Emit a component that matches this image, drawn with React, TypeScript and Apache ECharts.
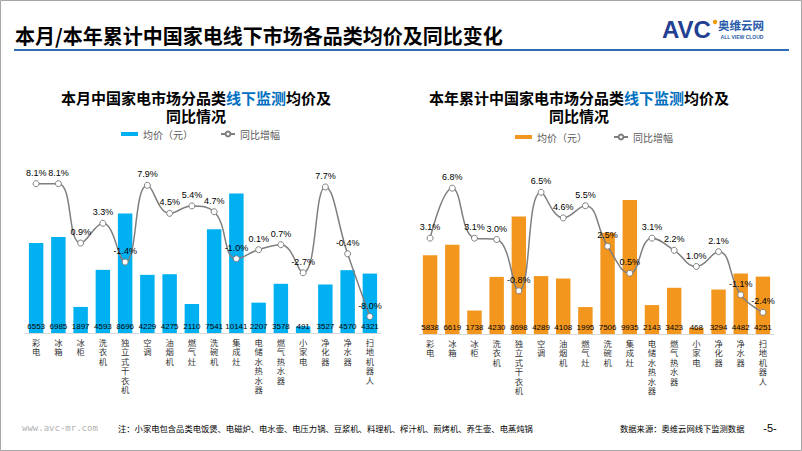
import React, { useEffect, useRef } from 'react';
import * as echarts from 'echarts';

const categories = ['彩电', '冰箱', '冰柜', '洗衣机', '独立式干衣机', '空调', '油烟机', '燃气灶', '洗碗机', '集成灶', '电储水热水器', '燃气热水器', '小家电', '净化器', '净水器', '扫地机器人'];

const monthPrice = [6553, 6985, 1897, 4593, 8696, 4229, 4275, 2110, 7541, 10141, 2207, 3578, 491, 3527, 4570, 4321];
const monthYoY = [8.1, 8.1, 0.9, 3.3, -1.4, 7.9, 4.5, 5.4, 4.7, -1.0, 0.1, 0.7, -2.7, 7.7, -0.4, -8.0];

const yearPrice = [5838, 6619, 1738, 4230, 8698, 4289, 4108, 1995, 7506, 9935, 2143, 3423, 468, 3294, 4482, 4251];
const yearYoY = [3.1, 6.8, 3.1, 3.0, -0.8, 6.5, 4.6, 5.5, 2.5, 0.5, 3.1, 2.2, 1.0, 2.1, -1.1, -2.4];

const CJK = "'Noto Sans CJK SC', 'Noto Sans', sans-serif";
const LAT = "'Liberation Sans', 'Noto Sans CJK SC', sans-serif";

function xAxisFor(gridIndex: number) {
  return {
    gridIndex,
    type: 'category',
    data: categories,
    axisTick: { show: false },
    axisLine: { show: true, lineStyle: { color: '#d9d9d9', width: 1 } },
    axisLabel: {
      interval: 0,
      formatter: (v: string) => v.split('').join('\n'),
      fontSize: 8.3,
      lineHeight: 9.5,
      color: '#333333',
      margin: 5,
      fontFamily: LAT,
    },
  };
}

function barSeries(name: string, data: number[], idx: number, color: string) {
  return {
    name,
    type: 'bar',
    xAxisIndex: idx,
    yAxisIndex: idx * 2,
    data,
    barWidth: '65%',
    itemStyle: { color },
    label: {
      show: true,
      position: 'insideBottom',
      distance: 3,
      color: '#000',
      fontSize: 8,
      fontFamily: "'Liberation Sans', sans-serif",
    },
    z: 2,
  };
}

function lineSeries(name: string, data: number[], idx: number) {
  return {
    name,
    type: 'line',
    xAxisIndex: idx,
    yAxisIndex: idx * 2 + 1,
    data,
    smooth: 0.45,
    symbol: 'circle',
    symbolSize: 6,
    lineStyle: { color: '#7f7f7f', width: 1.5 },
    itemStyle: { color: '#ffffff', borderColor: '#7f7f7f', borderWidth: 1 },
    label: {
      show: true,
      position: 'top',
      distance: 3,
      color: '#000',
      fontSize: 9,
      fontFamily: "'Liberation Sans', sans-serif",
      formatter: (p: any) => Number(p.value).toFixed(1) + '%',
    },
    z: 5,
  };
}

function legendFor(seriesName: string, text: string, left: number, top: number, isBar: boolean) {
  return {
    data: [isBar ? { name: seriesName, icon: 'rect' } : { name: seriesName }],
    left,
    top,
    padding: 0,
    itemWidth: isBar ? 17 : 14,
    itemHeight: isBar ? 4 : 6,
    selectedMode: false,
    formatter: () => text,
    textStyle: { fontSize: 10, color: '#595959', fontFamily: CJK },
  };
}

function centeredText(x: number, y: number, text: string, extra: any = {}) {
  return {
    type: 'text',
    x,
    y,
    style: {
      text,
      fontSize: 15,
      fontWeight: 'bold',
      fontFamily: LAT,
      fill: '#000',
      textAlign: 'center',
      align: 'center',
      textVerticalAlign: 'middle',
      verticalAlign: 'middle',
      ...extra,
    },
  };
}

function leftText(x: number, y: number, text: string, extra: any = {}) {
  return {
    type: 'text',
    x,
    y,
    style: {
      text,
      fontFamily: CJK,
      fill: '#000',
      textVerticalAlign: 'middle',
      verticalAlign: 'middle',
      ...extra,
    },
  };
}

const blueRich = { b: { fill: '#0070c0', color: '#0070c0', fontSize: 15, fontWeight: 'bold', fontFamily: LAT } };

export default function App() {
  const ref = useRef<HTMLDivElement>(null);

  useEffect(() => {
    document.body.style.margin = '0';
    const chart = echarts.init(ref.current!, null, { renderer: 'svg' });
    const option: any = {
      animation: false,
      backgroundColor: '#ffffff',
      textStyle: { fontFamily: CJK },
      grid: [
        { left: 25, width: 356, top: 168, height: 165 },
        { left: 419, width: 355, top: 172, height: 162 },
      ],
      xAxis: [xAxisFor(0), xAxisFor(1)],
      yAxis: [
        { gridIndex: 0, type: 'value', min: 0, max: 12000, show: false, splitLine: { show: false } },
        { gridIndex: 0, type: 'value', min: -10, max: 10, show: false, splitLine: { show: false } },
        { gridIndex: 1, type: 'value', min: 0, max: 12000, show: false, splitLine: { show: false } },
        { gridIndex: 1, type: 'value', min: -4, max: 8, show: false, splitLine: { show: false } },
      ],
      legend: [
        legendFor('本月均价', '均价（元）', 121, 129, true),
        legendFor('本月同比', '同比增幅', 220, 129, false),
        legendFor('本年均价', '均价（元）', 515, 132, true),
        legendFor('本年同比', '同比增幅', 613, 132, false),
      ],
      series: [
        barSeries('本月均价', monthPrice, 0, '#00b0f0'),
        lineSeries('本月同比', monthYoY, 0),
        barSeries('本年均价', yearPrice, 1, '#f2961e'),
        lineSeries('本年同比', yearYoY, 1),
      ],
      graphic: [
        {
          type: 'rect',
          shape: { x: 0.5, y: 0.5, width: 801, height: 450 },
          style: { fill: 'none', stroke: '#a6a6a6', lineWidth: 1 },
          silent: true,
        },
        leftText(15, 35, '本月/本年累计中国家电线下市场各品类均价及同比变化', { fontSize: 20, fontWeight: 'bold' }),
        {
          type: 'line',
          shape: { x1: 14, y1: 50, x2: 789, y2: 50 },
          style: { stroke: '#2e6db4', lineWidth: 2 },
        },
        // logo
        leftText(662, 29, 'AVC', {
          fontSize: 24,
          fontWeight: 900,
          fontFamily: "'Liberation Sans', sans-serif",
          fill: '#233f94',
        }),
        { type: 'circle', shape: { cx: 715, cy: 22, r: 2.2 }, style: { fill: '#f39800' } },
        leftText(718, 25, '奥维云网', { fontSize: 11.5, fontWeight: 'bold', fill: '#2a5caa' }),
        centeredText(742, 37, 'ALL VIEW CLOUD', {
          fontSize: 5,
          fontFamily: "'Liberation Sans', sans-serif",
          fill: '#2a5caa',
        }),
        // subtitles
        centeredText(196, 98.3, '本月中国家电市场分品类{b|线下监测}均价及', { rich: blueRich }),
        centeredText(196, 116, '同比情况'),
        centeredText(579, 98.3, '本年累计中国家电市场分品类{b|线下监测}均价及', { rich: blueRich }),
        centeredText(579, 116, '同比情况'),
        // footer
        leftText(22, 428, 'www.avc-mr.com', {
          fontSize: 9,
          fontFamily: "'DejaVu Sans Mono', monospace",
          fill: '#b0b0b0',
        }),
        leftText(118, 428, '注：小家电包含品类电饭煲、电磁炉、电水壶、电压力锅、豆浆机、料理机、榨汁机、煎烤机、养生壶、电蒸炖锅', { fontSize: 8.3 }),
        leftText(620, 428, '数据来源：奥维云网线下监测数据', { fontSize: 8.3 }),
        centeredText(770, 428, '-5-', {
          fontSize: 11,
          fontWeight: 'normal',
          fontFamily: "'Liberation Sans', sans-serif",
        }),
      ],
    };
    chart.setOption(option);
    return () => chart.dispose();
  }, []);

  return <div ref={ref} style={{ width: 802, height: 451 }} />;
}
